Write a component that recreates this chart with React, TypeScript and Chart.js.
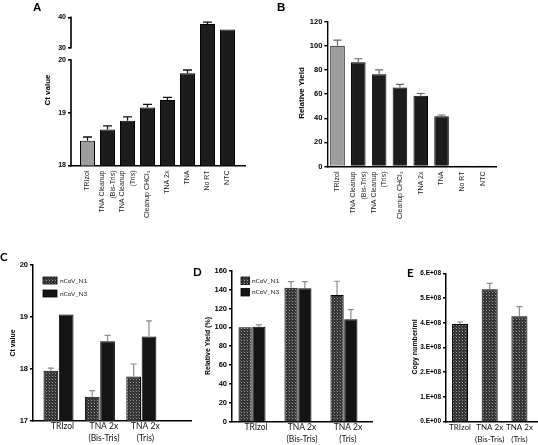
import React, { useEffect, useRef } from "react";
import { Chart, registerables } from "chart.js";
Chart.register(...registerables);

const ARIAL = "'Liberation Sans', Arial, sans-serif";
const SOFT = "Lato, 'Open Sans', sans-serif";

// ---------- Panels A & B ----------
const extractionMethods: string[][] = [
  ["TRIzol"], ["TNA Cleanup", "(Bis-Tris)"], ["TNA Cleanup", "(Tris)"], ["Cleanup CHCl₃"],
  ["TNA 2x"], ["TNA"], ["No RT"], ["NTC"],
];
const ctValuesA = [18.47, 18.68, 18.85, 19.1, 19.24, 19.75, 37.8, 36.0];
const ctErrTopA = [18.54, 18.75, 18.92, 19.16, 19.29, 19.81, 38.4, 36.1];
const ctTicksA = [18, 19, 20, 30, 40];
const relYieldB = [100, 86.3, 76.4, 65.5, 58.6, 41.6, 0.4, 0.3];
const relYieldErrTopB = [104.7, 89.3, 80.0, 68.0, 60.5, 42.7, 0.4, 0.3];
const yieldTicksB = [0, 20, 40, 60, 80, 100, 120];

// ---------- Panels C, D & E ----------
const comparedMethods: string[][] = [["TRIzol"], ["TNA 2x", "(Bis-Tris)"], ["TNA 2x", "(Tris)"]];
const targets = ["nCoV_N1", "nCoV_N3"];
const ctN1 = [17.96, 17.46, 17.85];
const ctN1ErrTop = [18.01, 17.58, 18.09];
const ctN3 = [19.04, 18.53, 18.62];
const ctN3ErrTop = [19.05, 18.64, 18.92];
const ctTicksC = [17, 18, 19, 20];
const yieldN1 = [100, 142, 134.3];
const yieldN1ErrTop = [100, 148.4, 148.8];
const yieldN3 = [100.7, 141.3, 108.5];
const yieldN3ErrTop = [102.5, 148.4, 118.7];
const yieldTicksD = [0, 20, 40, 60, 80, 100, 120, 140, 160];
const copiesPerMl = [3.95e8, 5.36e8, 4.26e8];
const copiesErrTop = [4.03e8, 5.59e8, 4.65e8];
const copyTicksE = [0, 1e8, 2e8, 3e8, 4e8, 5e8, 6e8];

// broken y axis of panel A (18-20 lower segment, 30-40 upper segment)
const BREAK_LOW = 20;
const BREAK_HIGH = 30;
function brokenY(v: number) {
  return v <= BREAK_LOW ? v : BREAK_LOW + 0.233 + (v - BREAK_HIGH) * 0.0576;
}

function makePattern() {
  const c = document.createElement("canvas");
  c.width = 3;
  c.height = 3;
  const g = c.getContext("2d")!;
  g.fillStyle = "#333333";
  g.fillRect(0, 0, 3, 3);
  g.fillStyle = "#9c9c9c";
  g.fillRect(1, 1, 1, 1);
  g.fillStyle = "#5a5a5a";
  g.fillRect(0, 0, 1, 1);
  return g.createPattern(c, "repeat")!;
}

type Box = { x: number; y: number; w: number; h: number };
type Area = { l: number; t: number; r: number; b: number };

function vTitle(ctx: CanvasRenderingContext2D, text: string, x: number, y: number, font: string) {
  ctx.save();
  ctx.translate(x, y);
  ctx.rotate(-Math.PI / 2);
  ctx.font = font;
  ctx.fillStyle = "#000";
  ctx.textAlign = "center";
  ctx.textBaseline = "middle";
  ctx.fillText(text, 0, 0);
  ctx.restore();
}

function buildConfig(o: any) {
  const box: Box = o.box;
  const area: Area = o.area;
  const padTop = area.t - box.y;
  const padRight = box.x + box.w - area.r;
  const yW = area.l - box.x;
  const xH = box.y + box.h - area.b;
  const xFontSize = o.xFontSize || 8.5;
  const plugin = {
    id: "panelExtras",
    afterDatasetsDraw(chart: any) {
      const ctx = chart.ctx;
      const ys = chart.scales.y;
      ctx.save();
      ctx.strokeStyle = o.errColor;
      ctx.lineWidth = o.errWidth;
      o.errs.forEach((tops: number[], di: number) => {
        const meta = chart.getDatasetMeta(di);
        tops.forEach((top: number, i: number) => {
          const bar = meta.data[i];
          if (!bar) return;
          const yt = ys.getPixelForValue(top);
          if (bar.y - yt < 1) return;
          ctx.beginPath();
          ctx.moveTo(bar.x, bar.y);
          ctx.lineTo(bar.x, yt);
          ctx.moveTo(bar.x - o.cap, yt);
          ctx.lineTo(bar.x + o.cap, yt);
          ctx.stroke();
        });
      });
      ctx.restore();
    },
    afterDraw(chart: any) {
      if (!o.draw) return;
      const ctx = chart.ctx;
      ctx.save();
      ctx.translate(-box.x, -box.y);
      o.draw(ctx, chart, box);
      ctx.restore();
    },
  };
  return {
    type: "bar",
    data: { datasets: o.datasets },
    options: {
      responsive: false,
      animation: false,
      devicePixelRatio: 1,
      layout: { padding: { top: padTop, right: padRight, left: 0, bottom: 0 }, autoPadding: false },
      plugins: { legend: { display: false }, tooltip: { enabled: false } },
      datasets: { bar: { categoryPercentage: o.cp, barPercentage: o.bp } },
      scales: {
        x: {
          type: "linear",
          min: o.xMin,
          max: o.xMax,
          offset: false,
          bounds: "data",
          afterFit: (s: any) => { s.height = xH; },
          afterBuildTicks: (s: any) => { s.ticks = o.xLabels.map((_: any, i: number) => ({ value: i })); },
          grid: { display: false, drawTicks: false, tickLength: 0 },
          border: { display: true, color: "#000", width: o.axisWidth },
          ticks: {
            display: o.showXTicks,
            autoSkip: false,
            maxRotation: 0,
            minRotation: 0,
            padding: 0,
            labelOffset: o.xLabelOffset || 0,
            color: "#111",
            font: { family: SOFT, size: xFontSize, lineHeight: 12 / xFontSize },
            callback: (_v: any, i: number) => o.xLabels[i],
          },
        },
        y: {
          type: "linear",
          min: o.yMin,
          max: o.yMax,
          beginAtZero: false,
          bounds: "data",
          afterFit: (s: any) => { s.width = yW; },
          afterBuildTicks: (s: any) => { s.ticks = o.yTickValues.map((v: number) => ({ value: v })); },
          grid: { drawOnChartArea: false, drawTicks: true, tickLength: 3, color: "#000", lineWidth: o.axisWidth },
          border: { display: o.yBorder, color: "#000", width: o.axisWidth },
          ticks: {
            padding: 2,
            color: "#000",
            font: { family: ARIAL, size: o.yFontSize, weight: "bold" },
            callback: (_v: any, i: number) => o.yLabels[i],
          },
        },
      },
    },
    plugins: [plugin],
  };
}

function drawRotatedLabels(ctx: CanvasRenderingContext2D, chart: any, box: Box, axisY: number) {
  const xs = chart.scales.x;
  ctx.font = `7px ${ARIAL}`;
  ctx.fillStyle = "#222";
  ctx.textAlign = "right";
  ctx.textBaseline = "middle";
  const lh = 10.7;
  extractionMethods.forEach((lines, i) => {
    const cx = xs.getPixelForValue(i) + box.x;
    lines.forEach((line, k) => {
      const x = cx + (k - (lines.length - 1) / 2) * lh;
      ctx.save();
      ctx.translate(x, axisY + 5);
      ctx.rotate(-Math.PI / 2);
      ctx.fillText(line, 0, 0);
      ctx.restore();
    });
  });
}

function drawLegend(ctx: CanvasRenderingContext2D, fills: any[], x: number, ys: number[], w: number, h: number, tx: number) {
  ctx.font = `6.5px ${SOFT}`;
  ctx.textAlign = "left";
  ctx.textBaseline = "middle";
  targets.forEach((name, i) => {
    ctx.fillStyle = fills[i];
    ctx.fillRect(x, ys[i], w, h);
    ctx.strokeStyle = "#000";
    ctx.lineWidth = 0.8;
    ctx.strokeRect(x, ys[i], w, h);
    ctx.fillStyle = "#222";
    ctx.fillText(name, tx, ys[i] + h / 2);
  });
}

function configA() {
  const box = { x: 0, y: 0, w: 270, h: 240 };
  const area = { l: 71, t: 17.3, r: 245, b: 165.5 };
  return buildConfig({
    box, area,
    xMin: -0.825, xMax: 7.875, xLabels: extractionMethods, showXTicks: false,
    yMin: 18, yMax: brokenY(40),
    yTickValues: ctTicksA.map(brokenY), yLabels: ctTicksA.map(String), yFontSize: 7, yBorder: false,
    axisWidth: 1.6, cp: 1, bp: 0.75,
    datasets: [{
      data: ctValuesA.map((v, i) => ({ x: i, y: brokenY(v) })),
      backgroundColor: ctValuesA.map((_, i) => (i === 0 ? "#9d9d9d" : "#1c1c1c")),
      borderColor: "#000", borderWidth: 1,
    }],
    errs: [ctErrTopA.map(brokenY)], errColor: "#111", errWidth: 1.3, cap: 4.5,
    draw: (ctx: CanvasRenderingContext2D, chart: any, b: Box) => {
      const ys = chart.scales.y;
      const px = area.l;
      ctx.strokeStyle = "#000";
      ctx.lineWidth = 1.6;
      ctx.beginPath();
      ctx.moveTo(px, ys.getPixelForValue(18) + b.y + 0.8);
      ctx.lineTo(px, ys.getPixelForValue(20) + b.y - 0.8);
      ctx.moveTo(px, ys.getPixelForValue(brokenY(BREAK_HIGH)) + b.y + 0.8);
      ctx.lineTo(px, ys.getPixelForValue(brokenY(40)) + b.y - 0.8);
      ctx.stroke();
      drawRotatedLabels(ctx, chart, b, area.b);
      vTitle(ctx, "Ct value", 48, 90, `bold 8px ${ARIAL}`);
    },
  });
}

function configB() {
  const box = { x: 270, y: 0, w: 268, h: 240 };
  const area = { l: 327.3, t: 21.7, r: 496.7, b: 166.5 };
  return buildConfig({
    box, area,
    xMin: -0.49, xMax: 7.65, xLabels: extractionMethods, showXTicks: false,
    yMin: 0, yMax: 120,
    yTickValues: yieldTicksB, yLabels: yieldTicksB.map(String), yFontSize: 7.5, yBorder: true,
    axisWidth: 1.4, cp: 1, bp: 0.7,
    datasets: [{
      data: relYieldB.map((v, i) => ({ x: i, y: v })),
      backgroundColor: relYieldB.map((_, i) => (i === 0 ? "#9d9d9d" : "#1c1c1c")),
      borderColor: "#000", borderWidth: 1,
    }],
    errs: [relYieldErrTopB], errColor: "#666", errWidth: 1.2, cap: 4,
    draw: (ctx: CanvasRenderingContext2D, chart: any, b: Box) => {
      drawRotatedLabels(ctx, chart, b, area.b);
      vTitle(ctx, "Relative Yield", 301.5, 93, `bold 8px ${ARIAL}`);
    },
  });
}

function configC() {
  const pattern = makePattern();
  const box = { x: 0, y: 240, w: 195, h: 205 };
  const area = { l: 33, t: 264.7, r: 191, b: 420.7 };
  return buildConfig({
    box, area,
    xMin: -0.616, xMax: 3.2, xLabels: comparedMethods, showXTicks: true, xLabelOffset: 4,
    yMin: 17, yMax: 20,
    yTickValues: ctTicksC, yLabels: ctTicksC.map(String), yFontSize: 7.5, yBorder: true,
    axisWidth: 1.5, cp: 0.74, bp: 0.96,
    datasets: [
      { data: ctN1.map((v, i) => ({ x: i, y: v })), backgroundColor: pattern, borderColor: "#000", borderWidth: 1 },
      { data: ctN3.map((v, i) => ({ x: i, y: v })), backgroundColor: "#141414", borderColor: "#000", borderWidth: 1 },
    ],
    errs: [ctN1ErrTop, ctN3ErrTop], errColor: "#8a8a8a", errWidth: 1.2, cap: 3,
    draw: (ctx: CanvasRenderingContext2D) => {
      drawLegend(ctx, [pattern, "#141414"], 43, [277, 290], 14, 7, 60);
      vTitle(ctx, "Ct value", 13, 343, `bold 7px ${ARIAL}`);
    },
  });
}

function configD() {
  const pattern = makePattern();
  const box = { x: 195, y: 240, w: 185, h: 205 };
  const area = { l: 232, t: 270.7, r: 372, b: 421.7 };
  return buildConfig({
    box, area,
    xMin: -0.435, xMax: 2.61, xLabels: comparedMethods, showXTicks: true, xLabelOffset: 4,
    yMin: 0, yMax: 160,
    yTickValues: yieldTicksD, yLabels: yieldTicksD.map(String), yFontSize: 7.5, yBorder: true,
    axisWidth: 1.5, cp: 0.6, bp: 0.96,
    datasets: [
      { data: yieldN1.map((v, i) => ({ x: i, y: v })), backgroundColor: pattern, borderColor: "#000", borderWidth: 1 },
      { data: yieldN3.map((v, i) => ({ x: i, y: v })), backgroundColor: "#141414", borderColor: "#000", borderWidth: 1 },
    ],
    errs: [yieldN1ErrTop, yieldN3ErrTop], errColor: "#8a8a8a", errWidth: 1.2, cap: 3,
    draw: (ctx: CanvasRenderingContext2D) => {
      drawLegend(ctx, [pattern, "#141414"], 241, [277, 288.5], 8.5, 7.5, 252);
      vTitle(ctx, "Relative Yield (%)", 208, 346, `bold 7px ${ARIAL}`);
    },
  });
}

function configE() {
  const pattern = makePattern();
  const box = { x: 380, y: 240, w: 158, h: 205 };
  const area = { l: 446, t: 273.3, r: 538, b: 421.7 };
  return buildConfig({
    box, area,
    xMin: -0.471, xMax: 2.626, xLabels: comparedMethods, showXTicks: true, xLabelOffset: 0, xFontSize: 8,
    yMin: 0, yMax: 6e8,
    yTickValues: copyTicksE, yLabels: copyTicksE.map((v) => `${Math.round(v / 1e8)}.E+0${v === 0 ? 0 : 8}`),
    yFontSize: 6.5, yBorder: true,
    axisWidth: 1.5, cp: 0.54, bp: 1,
    datasets: [
      { data: copiesPerMl.map((v, i) => ({ x: i, y: v })), backgroundColor: pattern, borderColor: "#000", borderWidth: 1 },
    ],
    errs: [copiesErrTop], errColor: "#8a8a8a", errWidth: 1.2, cap: 3,
    draw: (ctx: CanvasRenderingContext2D) => {
      vTitle(ctx, "Copy number/ml", 415, 347, `bold 7px ${ARIAL}`);
    },
  });
}

function Panel({ box, make }: { box: Box; make: () => any }) {
  const ref = useRef<HTMLCanvasElement | null>(null);
  useEffect(() => {
    const chart = new Chart(ref.current as HTMLCanvasElement, make());
    return () => chart.destroy();
  }, []);
  return (
    <canvas
      ref={ref}
      width={box.w}
      height={box.h}
      style={{ position: "absolute", left: box.x, top: box.y, width: box.w, height: box.h }}
    />
  );
}

const letterStyle = (x: number, y: number, family: string): React.CSSProperties => ({
  position: "absolute",
  left: x - 4,
  top: y - 6,
  font: `bold 11.5px ${family}`,
  lineHeight: "12px",
  color: "#000",
});

export default function App() {
  return (
    <div style={{ position: "absolute", left: 0, top: 0, width: 538, height: 445, background: "#fff", overflow: "hidden" }}>
      <Panel box={{ x: 0, y: 0, w: 270, h: 240 }} make={configA} />
      <Panel box={{ x: 270, y: 0, w: 268, h: 240 }} make={configB} />
      <Panel box={{ x: 0, y: 240, w: 195, h: 205 }} make={configC} />
      <Panel box={{ x: 195, y: 240, w: 185, h: 205 }} make={configD} />
      <Panel box={{ x: 380, y: 240, w: 158, h: 205 }} make={configE} />
      <div style={letterStyle(37, 7, ARIAL)}>A</div>
      <div style={letterStyle(281, 7, ARIAL)}>B</div>
      <div style={letterStyle(4, 257, SOFT)}>C</div>
      <div style={letterStyle(197, 272, SOFT)}>D</div>
      <div style={letterStyle(411, 273, SOFT)}>E</div>
    </div>
  );
}
